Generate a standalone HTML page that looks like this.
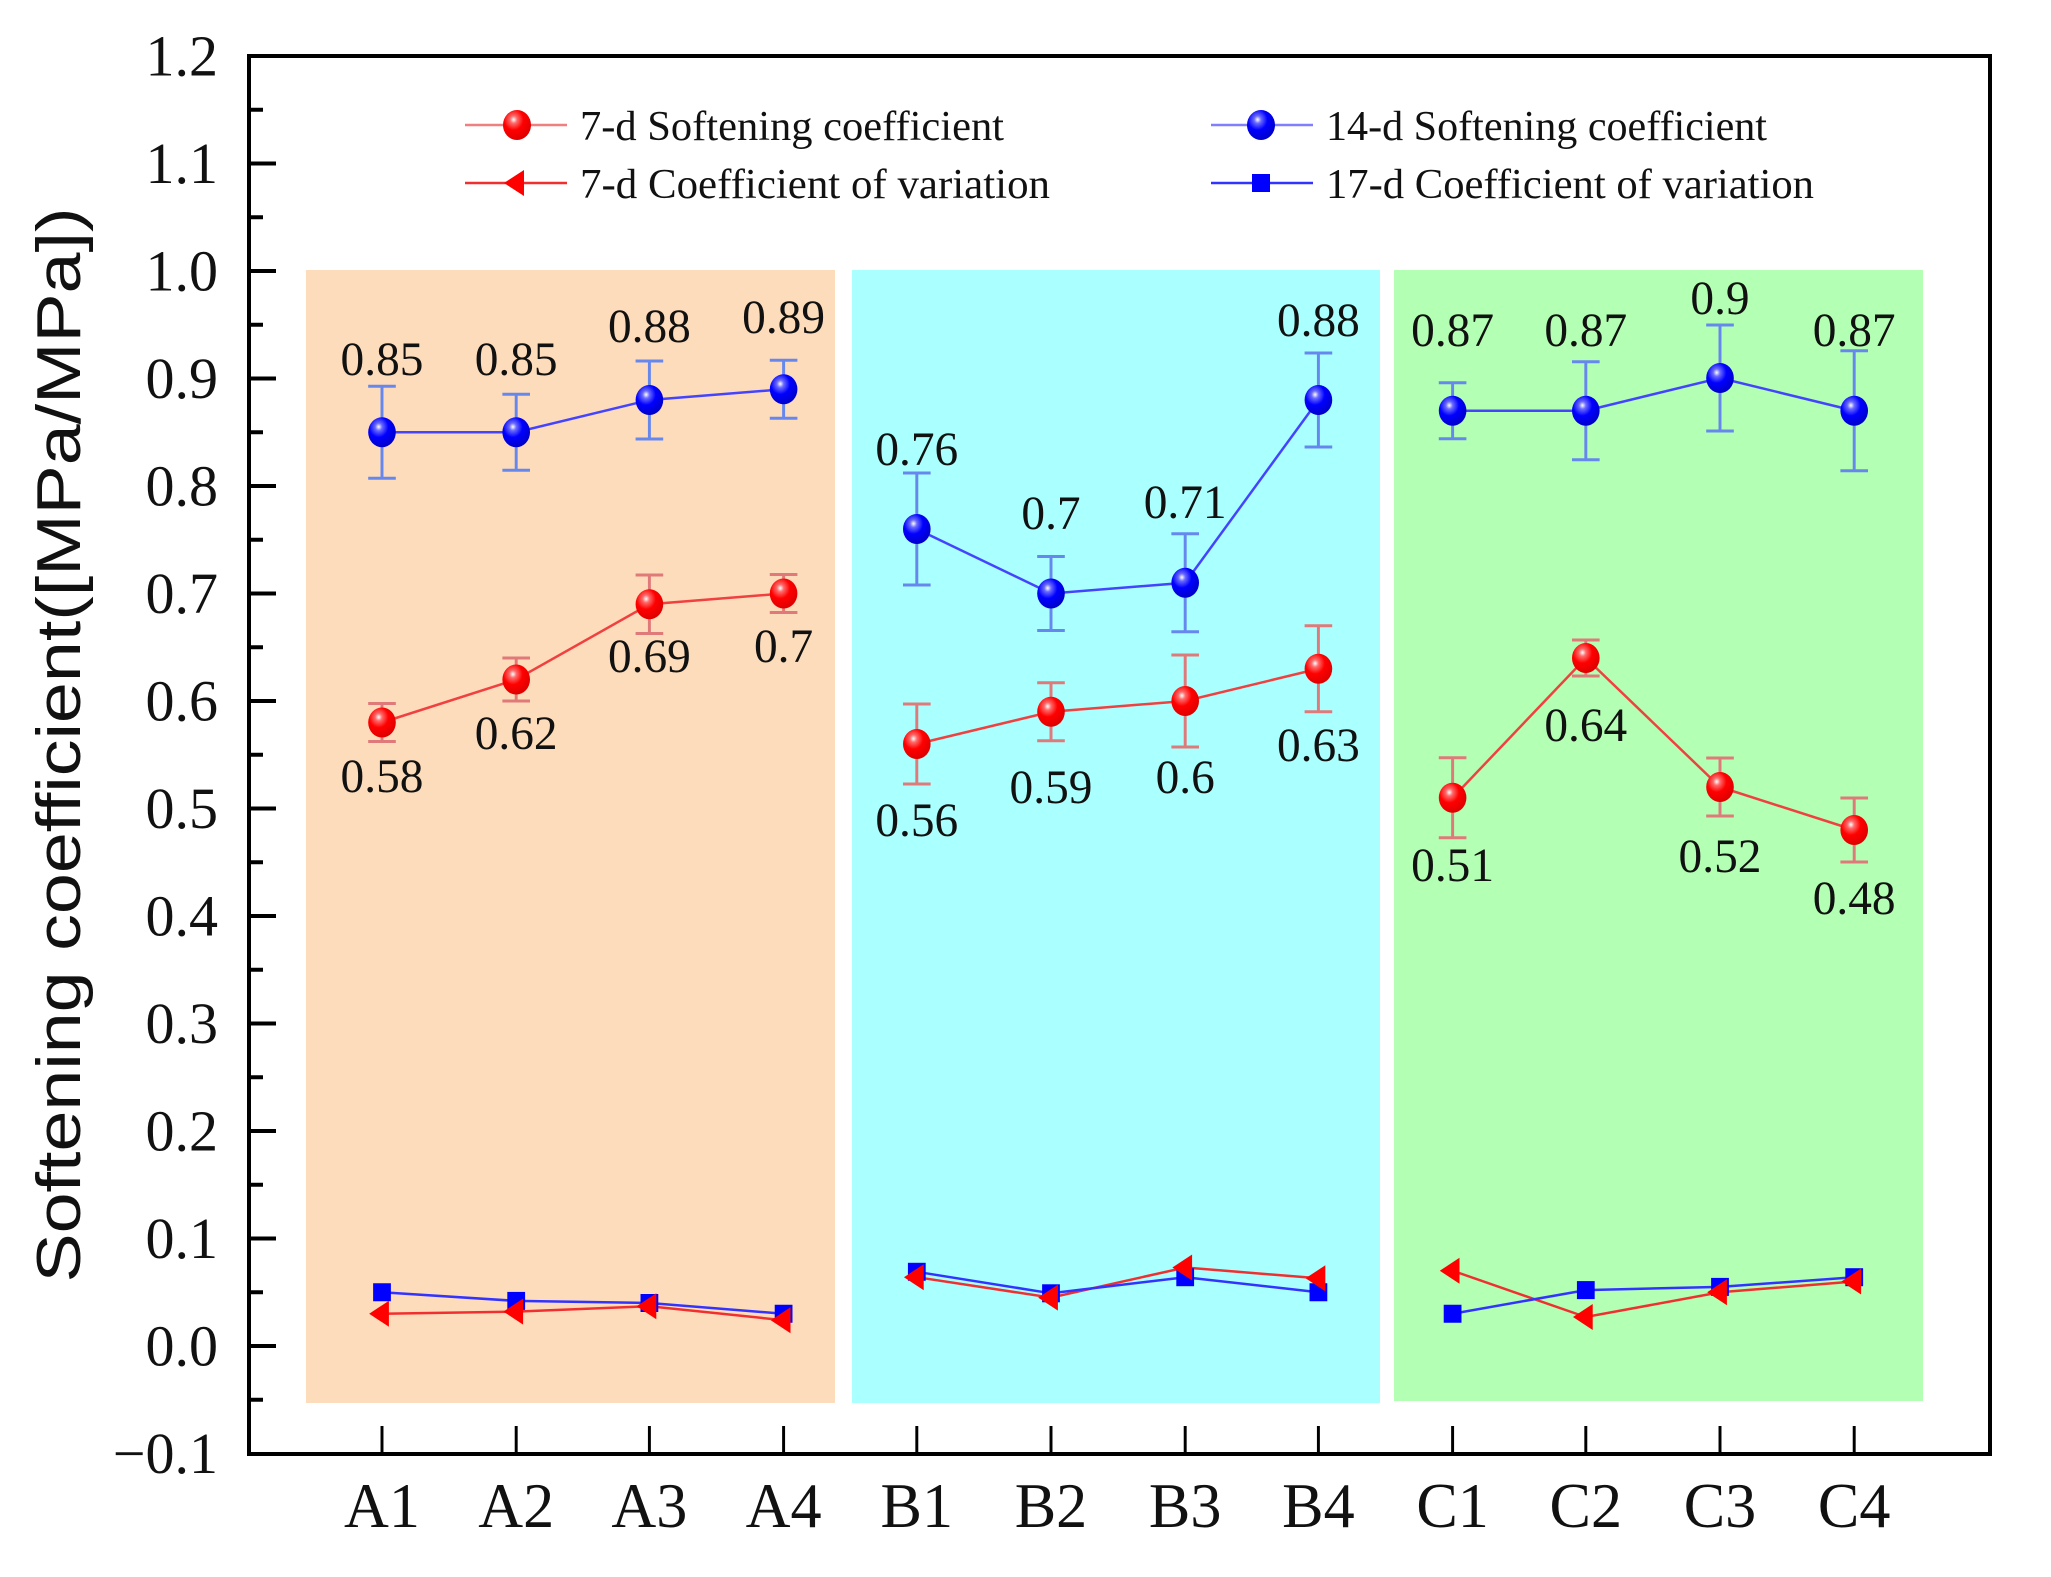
<!DOCTYPE html>
<html><head><meta charset="utf-8"><style>
html,body{margin:0;padding:0;background:#fff}
svg{display:block}
text{font-family:"Liberation Serif",serif;fill:#111}
</style></head><body>
<svg width="2051" height="1577" viewBox="0 0 2051 1577" xmlns="http://www.w3.org/2000/svg">
<defs>
<radialGradient id="rs" cx="0.38" cy="0.32" r="0.7"><stop offset="0" stop-color="#fff"/><stop offset="0.18" stop-color="#ff6a6a"/><stop offset="0.5" stop-color="#f00"/><stop offset="1" stop-color="#d00"/></radialGradient>
<radialGradient id="bs" cx="0.38" cy="0.32" r="0.7"><stop offset="0" stop-color="#fff"/><stop offset="0.18" stop-color="#6a6aff"/><stop offset="0.5" stop-color="#00f"/><stop offset="1" stop-color="#0000c8"/></radialGradient>
<g id="rb"><ellipse cx="0" cy="0" rx="14" ry="15" fill="url(#rs)"/></g>
<g id="bb"><ellipse cx="0" cy="0" rx="14" ry="15" fill="url(#bs)"/></g>
<g id="tri"><polygon points="-13,0 7,-13 7,13" fill="#f00"/></g>
<g id="sq"><rect x="-9" y="-9" width="18" height="18" fill="#00f"/></g>
</defs>
<!-- backgrounds -->
<rect x="306" y="270" width="529" height="1133" fill="#fddcbb"/>
<rect x="852" y="270" width="528" height="1133" fill="#aaffff"/>
<rect x="1394" y="270" width="529" height="1131" fill="#b3ffb3"/>
<!-- axes frame -->
<rect x="249" y="56" width="1741" height="1398" fill="none" stroke="#000" stroke-width="4"/>
<!-- y ticks -->
<g stroke="#000" stroke-width="4">
<line x1="249" x2="276" y1="56" y2="56"/><line x1="249" x2="263" y1="109.75" y2="109.75"/>
<line x1="249" x2="276" y1="163.5" y2="163.5"/><line x1="249" x2="263" y1="217.25" y2="217.25"/>
<line x1="249" x2="276" y1="271" y2="271"/><line x1="249" x2="263" y1="324.75" y2="324.75"/>
<line x1="249" x2="276" y1="378.5" y2="378.5"/><line x1="249" x2="263" y1="432.25" y2="432.25"/>
<line x1="249" x2="276" y1="486" y2="486"/><line x1="249" x2="263" y1="539.75" y2="539.75"/>
<line x1="249" x2="276" y1="593.5" y2="593.5"/><line x1="249" x2="263" y1="647.25" y2="647.25"/>
<line x1="249" x2="276" y1="701" y2="701"/><line x1="249" x2="263" y1="754.75" y2="754.75"/>
<line x1="249" x2="276" y1="808.5" y2="808.5"/><line x1="249" x2="263" y1="862.25" y2="862.25"/>
<line x1="249" x2="276" y1="916" y2="916"/><line x1="249" x2="263" y1="969.75" y2="969.75"/>
<line x1="249" x2="276" y1="1023.5" y2="1023.5"/><line x1="249" x2="263" y1="1077.25" y2="1077.25"/>
<line x1="249" x2="276" y1="1131" y2="1131"/><line x1="249" x2="263" y1="1184.75" y2="1184.75"/>
<line x1="249" x2="276" y1="1238.5" y2="1238.5"/><line x1="249" x2="263" y1="1292.25" y2="1292.25"/>
<line x1="249" x2="276" y1="1346" y2="1346"/><line x1="249" x2="263" y1="1399.75" y2="1399.75"/>
</g>
<!-- y tick labels -->
<g font-size="58" text-anchor="end" dominant-baseline="central">
<text x="218" y="56">1.2</text><text x="218" y="163.5">1.1</text><text x="218" y="271">1.0</text>
<text x="218" y="378.5">0.9</text><text x="218" y="486">0.8</text><text x="218" y="593.5">0.7</text>
<text x="218" y="701">0.6</text><text x="218" y="808.5">0.5</text><text x="218" y="916">0.4</text>
<text x="218" y="1023.5">0.3</text><text x="218" y="1131">0.2</text><text x="218" y="1238.5">0.1</text>
<text x="218" y="1346">0.0</text><text x="218" y="1453.5">−0.1</text>
</g>
<!-- y title -->
<text transform="translate(80,745) rotate(-90)" text-anchor="middle" font-size="62" textLength="1075" lengthAdjust="spacingAndGlyphs" style="font-family:'Liberation Sans',sans-serif">Softening coefficient([MPa/MPa])</text>

<g transform="matrix(0.98673 0 0 1 -1.84 0)">
<g stroke="#000" stroke-width="3">
<line x1="389" x2="389" y1="1426" y2="1454"/><line x1="525" x2="525" y1="1426" y2="1454"/>
<line x1="660" x2="660" y1="1426" y2="1454"/><line x1="796" x2="796" y1="1426" y2="1454"/>
<line x1="931" x2="931" y1="1426" y2="1454"/><line x1="1067" x2="1067" y1="1426" y2="1454"/>
<line x1="1203" x2="1203" y1="1426" y2="1454"/><line x1="1338" x2="1338" y1="1426" y2="1454"/>
<line x1="1474" x2="1474" y1="1426" y2="1454"/><line x1="1609" x2="1609" y1="1426" y2="1454"/>
<line x1="1745" x2="1745" y1="1426" y2="1454"/><line x1="1881" x2="1881" y1="1426" y2="1454"/>
</g>
<g font-size="63" text-anchor="middle">
<text x="389" y="1527">A1</text><text x="525" y="1527">A2</text><text x="660" y="1527">A3</text><text x="796" y="1527">A4</text>
<text x="931" y="1527">B1</text><text x="1067" y="1527">B2</text><text x="1203" y="1527">B3</text><text x="1338" y="1527">B4</text>
<text x="1474" y="1527">C1</text><text x="1609" y="1527">C2</text><text x="1745" y="1527">C3</text><text x="1881" y="1527">C4</text>
</g>
<!-- red error bars -->
<g stroke="#e07a7a" stroke-width="3">
<path d="M389 703.5V741.5M375 703.5H403M375 741.5H403"/>
<path d="M525 658V701M511 658H539M511 701H539"/>
<path d="M660 575V633.5M646 575H674M646 633.5H674"/>
<path d="M796 574.5V612.5M782 574.5H810M782 612.5H810"/>
<path d="M931 704V784M917 704H945M917 784H945"/>
<path d="M1067 682.75V740.75M1053 682.75H1081M1053 740.75H1081"/>
<path d="M1203 655V747M1189 655H1217M1189 747H1217"/>
<path d="M1338 625.75V711.75M1324 625.75H1352M1324 711.75H1352"/>
<path d="M1474 757.75V837.75M1460 757.75H1488M1460 837.75H1488"/>
<path d="M1609 640V676M1595 640H1623M1595 676H1623"/>
<path d="M1745 758V816M1731 758H1759M1731 816H1759"/>
<path d="M1881 798V862M1867 798H1895M1867 862H1895"/>
</g>
<!-- blue error bars -->
<g stroke="#6688ee" stroke-width="3">
<path d="M389 386.25V478.25M375 386.25H403M375 478.25H403"/>
<path d="M525 394.25V470.25M511 394.25H539M511 470.25H539"/>
<path d="M660 361V439M646 361H674M646 439H674"/>
<path d="M796 360.25V418.25M782 360.25H810M782 418.25H810"/>
<path d="M931 473V585M917 473H945M917 585H945"/>
<path d="M1067 556.5V630.5M1053 556.5H1081M1053 630.5H1081"/>
<path d="M1203 533.75V631.75M1189 533.75H1217M1189 631.75H1217"/>
<path d="M1338 353V447M1324 353H1352M1324 447H1352"/>
<path d="M1474 382.75V438.75M1460 382.75H1488M1460 438.75H1488"/>
<path d="M1609 361.75V459.75M1595 361.75H1623M1595 459.75H1623"/>
<path d="M1745 325V431M1731 325H1759M1731 431H1759"/>
<path d="M1881 350.75V470.75M1867 350.75H1895M1867 470.75H1895"/>
</g>
<!-- lines -->
<g fill="none" stroke-width="2.5">
<polyline stroke="#f04040" points="389,722.5 525,679.5 660,604.25 796,593.5"/>
<polyline stroke="#f04040" points="931,744 1067,711.75 1203,701 1338,668.75"/>
<polyline stroke="#f04040" points="1474,797.75 1609,658 1745,787 1881,830"/>
<polyline stroke="#4444ff" points="389,432.25 525,432.25 660,400 796,389.25"/>
<polyline stroke="#4444ff" points="931,529 1067,593.5 1203,582.75 1338,400"/>
<polyline stroke="#4444ff" points="1474,410.75 1609,410.75 1745,378 1881,410.75"/>
<polyline stroke="#f03030" points="389,1313.75 525,1311.6 660,1306.2 796,1320.2"/>
<polyline stroke="#f03030" points="931,1277.2 1067,1297.6 1203,1267.5 1338,1278.3"/>
<polyline stroke="#f03030" points="1474,1270.75 1609,1317 1745,1292.25 1881,1281.5"/>
<polyline stroke="#3333ff" points="389,1292.25 525,1300.9 660,1303 796,1313.75"/>
<polyline stroke="#3333ff" points="931,1271.8 1067,1293.3 1203,1277.2 1338,1292.25"/>
<polyline stroke="#3333ff" points="1474,1313.75 1609,1290.1 1745,1286.9 1881,1277.2"/>
</g>
<!-- markers -->
<use href="#rb" x="389" y="722.5"/><use href="#rb" x="525" y="679.5"/><use href="#rb" x="660" y="604.25"/><use href="#rb" x="796" y="593.5"/>
<use href="#rb" x="931" y="744"/><use href="#rb" x="1067" y="711.75"/><use href="#rb" x="1203" y="701"/><use href="#rb" x="1338" y="668.75"/>
<use href="#rb" x="1474" y="797.75"/><use href="#rb" x="1609" y="658"/><use href="#rb" x="1745" y="787"/><use href="#rb" x="1881" y="830"/>
<use href="#bb" x="389" y="432.25"/><use href="#bb" x="525" y="432.25"/><use href="#bb" x="660" y="400"/><use href="#bb" x="796" y="389.25"/>
<use href="#bb" x="931" y="529"/><use href="#bb" x="1067" y="593.5"/><use href="#bb" x="1203" y="582.75"/><use href="#bb" x="1338" y="400"/>
<use href="#bb" x="1474" y="410.75"/><use href="#bb" x="1609" y="410.75"/><use href="#bb" x="1745" y="378"/><use href="#bb" x="1881" y="410.75"/>
<use href="#sq" x="389" y="1292.25"/><use href="#sq" x="525" y="1300.9"/><use href="#sq" x="660" y="1303"/><use href="#sq" x="796" y="1313.75"/>
<use href="#sq" x="931" y="1271.8"/><use href="#sq" x="1067" y="1293.3"/><use href="#sq" x="1203" y="1277.2"/><use href="#sq" x="1338" y="1292.25"/>
<use href="#sq" x="1474" y="1313.75"/><use href="#sq" x="1609" y="1290.1"/><use href="#sq" x="1745" y="1286.9"/><use href="#sq" x="1881" y="1277.2"/>
<use href="#tri" x="389" y="1313.75"/><use href="#tri" x="525" y="1311.6"/><use href="#tri" x="660" y="1306.2"/><use href="#tri" x="796" y="1320.2"/>
<use href="#tri" x="931" y="1277.2"/><use href="#tri" x="1067" y="1297.6"/><use href="#tri" x="1203" y="1267.5"/><use href="#tri" x="1338" y="1278.3"/>
<use href="#tri" x="1474" y="1270.75"/><use href="#tri" x="1609" y="1317"/><use href="#tri" x="1745" y="1292.25"/><use href="#tri" x="1881" y="1281.5"/>
<!-- data labels -->
<g font-size="48" text-anchor="middle" dominant-baseline="central">
<text x="389" y="360">0.85</text><text x="525" y="360">0.85</text><text x="660" y="327">0.88</text><text x="796" y="318">0.89</text>
<text x="931" y="450">0.76</text><text x="1067" y="514">0.7</text><text x="1203" y="503">0.71</text><text x="1338" y="321">0.88</text>
<text x="1474" y="331">0.87</text><text x="1609" y="331">0.87</text><text x="1745" y="299">0.9</text><text x="1881" y="331">0.87</text>
<text x="389" y="777">0.58</text><text x="525" y="734">0.62</text><text x="660" y="657">0.69</text><text x="796" y="647">0.7</text>
<text x="931" y="821">0.56</text><text x="1067" y="788">0.59</text><text x="1203" y="778">0.6</text><text x="1338" y="746">0.63</text>
<text x="1474" y="866">0.51</text><text x="1609" y="726">0.64</text><text x="1745" y="857">0.52</text><text x="1881" y="899">0.48</text>
</g>
</g>
<!-- legend -->
<g stroke-width="2.5">
<line x1="465" x2="567" y1="125" y2="125" stroke="#f08080"/>
<line x1="465" x2="567" y1="183" y2="183" stroke="#f03030"/>
<line x1="1211" x2="1313" y1="125" y2="125" stroke="#8080ff"/>
<line x1="1211" x2="1313" y1="183" y2="183" stroke="#3333ff"/>
</g>
<use href="#rb" x="517" y="125"/><use href="#tri" x="517" y="183"/>
<use href="#bb" x="1261" y="125"/><use href="#sq" x="1261" y="183"/>
<g font-size="42" dominant-baseline="central">
<text x="580" y="127" textLength="424" lengthAdjust="spacingAndGlyphs">7-d Softening coefficient</text>
<text x="580" y="185" textLength="470" lengthAdjust="spacingAndGlyphs">7-d Coefficient of variation</text>
<text x="1326" y="127" textLength="441" lengthAdjust="spacingAndGlyphs">14-d Softening coefficient</text>
<text x="1326" y="185" textLength="488" lengthAdjust="spacingAndGlyphs">17-d Coefficient of variation</text>
</g>
</svg>
</body></html>
